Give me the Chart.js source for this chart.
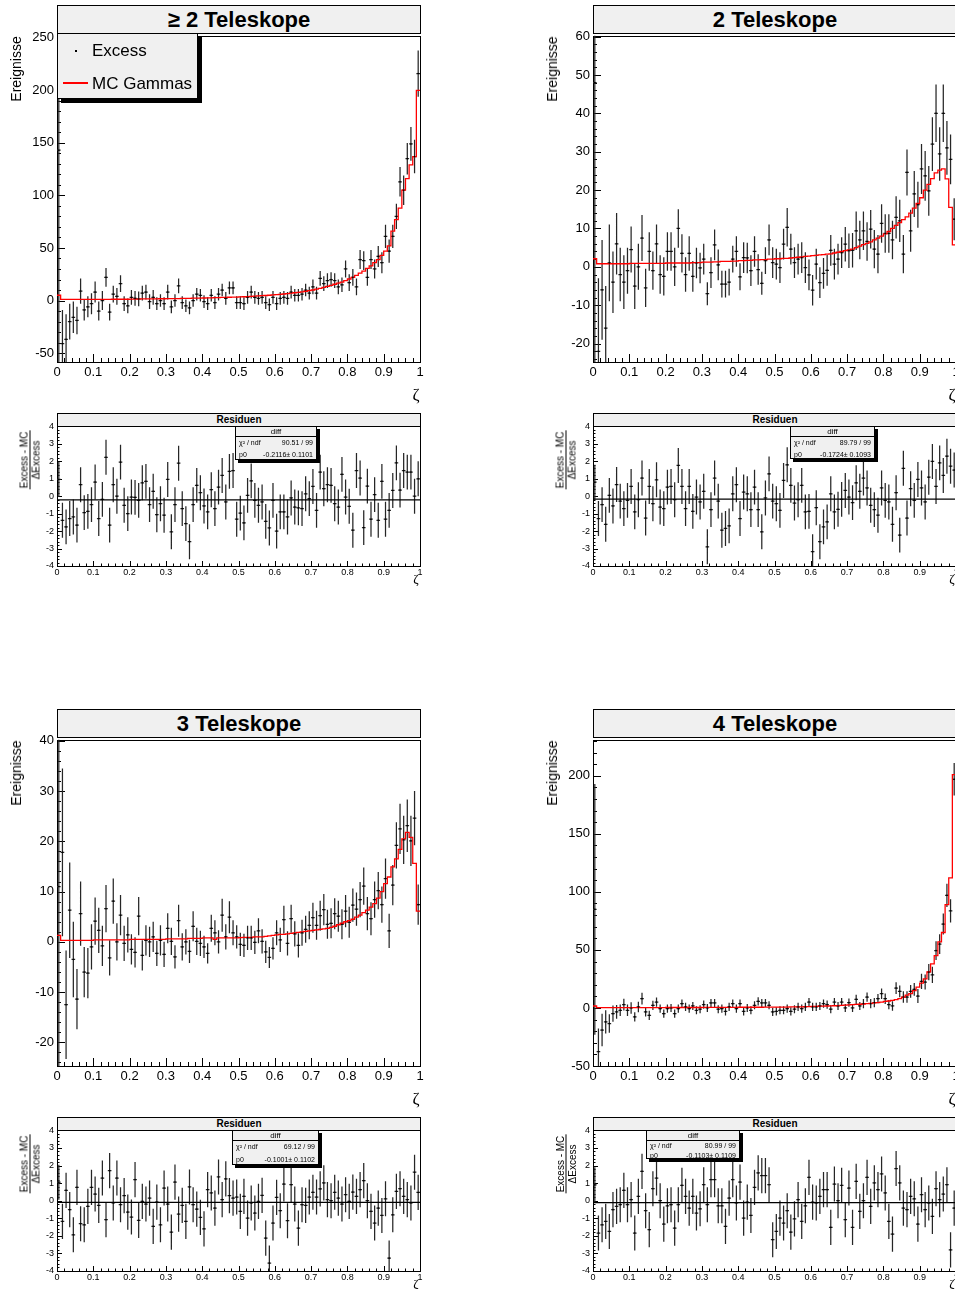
<!DOCTYPE html>
<html>
<head>
<meta charset="utf-8">
<script src="https://cdn.jsdelivr.net/npm/chart.js@4.4.1/dist/chart.umd.min.js"></script>
<style>
    html, body { margin: 0; padding: 0; background: #fff; }
    body { width: 955px; height: 1289px; overflow: hidden; position: relative; font-family: "Liberation Sans", Arial, sans-serif; color: #000; }
    canvas { position: absolute; }
    .box { position: absolute; box-sizing: border-box; background: #f0f0f0; border: 1px solid #000; }
    .title { text-align: center; font-weight: bold; }
    .ytitle { position: absolute; white-space: nowrap; transform: translate(-50%, -50%) rotate(-90deg); }
    .frac { text-align: center; font-size: 10px; line-height: 11px; }
    .frac .num { border-bottom: 1px solid #000; padding: 0 1px; }
    .zeta { position: absolute; font-family: "Liberation Serif", serif; transform: translate(-50%, -50%); }
    .stats { box-shadow: 3px 3px 0 #000; font-size: 7px; }
    .stats .head { text-align: center; font-size: 8px; border-bottom: 1px solid #000; }
    .stats .row { display: flex; justify-content: space-between; padding: 0 3px; }
</style>
</head>
<body>
<script>
    // --- DATA ---
    const BIN = 0.01;
    const zeta = Array.from({ length: 100 }, (_, i) => +(i * BIN + BIN / 2).toFixed(3));
    const zetaEdges = Array.from({ length: 101 }, (_, i) => +(i * BIN).toFixed(2));
    const xTickLabels = ['0', '0.1', '0.2', '0.3', '0.4', '0.5', '0.6', '0.7', '0.8', '0.9', '1'];

    // >= 2 Teleskope
    const excess2plus = [
        143, -41, -37, -20, -16, -19, 9, -9, -6, -3,
        8, -10, 0, 22, -11, 6, 4, 16, -3, -5,
        3, 2, 1.5, 7, 8, -1, 3, -3, 0, -3,
        8, -6, 0, 14, -2, -5, -7, 0, 6, 5,
        -1, -3, 5, -2, 6, 10, 2, 12, 12, -2,
        -2, -3, 3, 8, 3, 2, 3, -2, -4, 3,
        -3, 2, 3, 2, 8, 5, 5, 6, 10, 7,
        13, 7, 21, 16, 19, 20, 19, 13, 15, 30,
        17, 22, 13, 39, 38, 22, 39, 30, 42, 36,
        61, 47, 61, 80, 113, 105, 135, 149, 137, 216
    ];
    const err2plus = [
        210, 32, 24, 17, 15, 13, 12, 10, 10, 10,
        10, 9, 9, 9, 8, 8, 8, 8, 7, 7,
        7, 7, 7, 7, 7, 7, 7, 6, 6, 6,
        7, 6, 6, 7, 6, 6, 6, 6, 6, 6,
        6, 6, 6, 6, 6, 6, 6, 6, 6, 6,
        6, 6, 6, 6, 6, 6, 6, 6, 6, 6,
        6, 6, 6, 6, 6, 6, 6, 6, 6, 6,
        7, 6, 7, 7, 7, 7, 7, 7, 7, 8,
        8, 8, 8, 9, 9, 8, 9, 9, 10, 10,
        11, 11, 11, 12, 14, 14, 15, 16, 16, 22
    ];
    const mc2plus = [
        5, 1, 1, 1, 1, 1, 1, 1, 1, 1,
        1, 1, 1, 1, 1, 1.2, 1.2, 1.2, 1.2, 1.2,
        1.4, 1.4, 1.4, 1.5, 1.5, 1.5, 1.6, 1.6, 1.7, 1.7,
        1.8, 1.8, 1.9, 1.9, 2, 2, 2.1, 2.2, 2.2, 2.3,
        2.4, 2.5, 2.6, 2.7, 2.8, 2.9, 3, 3.1, 3.2, 3.3,
        3.5, 3.6, 3.8, 4, 4.2, 4.4, 4.6, 4.8, 5, 5.3,
        5.6, 5.9, 6.2, 6.6, 7, 7.4, 7.8, 8.3, 8.8, 9.4,
        10, 10.8, 11.6, 12.5, 13.5, 14.5, 15.5, 16.5, 17.5, 19,
        20.5, 22, 24, 26, 28, 30.5, 33, 36, 39, 43,
        47, 52, 66, 77, 88, 105, 116, 129, 137, 200
    ];
    const res2plus = [
        0.96, -1.38, -1.76, -1.28, -1.19, -1.66, 0.66, -0.94, -0.87, -0.48,
        0.81, -1.28, -0.18, 2.23, -1.66, 0.66, 0.0, 1.95, -0.52, -1.0,
        -0.05, -0.07, -0.24, 0.77, 0.85, -0.48, 0.28, -1.06, -0.43, -1.09,
        0.96, -2.04, -0.48, 1.89, -0.71, -1.57, -2.61, -0.48, 0.62, 0.2,
        -0.56, -0.9, 0.37, -0.71, 0.52, 1.19, -0.33, 1.42, 1.47, -1.32,
        -0.97, -1.53, 0.05, 0.88, -0.24, -0.52, -0.33, -1.44, -1.82, -0.24,
        -2.0, -0.9, -0.9, -1.19, -0.1, -0.62, -0.67, -0.71, 0.14, -0.14,
        0.56, -0.81, 1.38, 0.43, 0.66, 0.62, -0.43, -0.62, 1.25, -0.05,
        -0.58, -1.95, 1.47, 1.04, -1.8, 0.58, -1.32, 0.09, -1.38, 0.85,
        -1.32, -0.81, 0.33, 1.91, 0.35, 1.47, 1.38, 1.38, 0.0, 1.0
    ];

    // 2 Teleskope
    const excess2 = [
        48, -22, -6, -16, 1, -4, 6, -2, -4, -1,
        4.5, -5, 0, 7.5, -5.5, 4, -1, 6, -2, -2.5,
        4, 4, 0, 10, 3.5, -2, 3.5, -2.5, 1, -0.3,
        2, -7, -1.5, 5.7, 0.5, -4.5, -4.5, -4, 2, 4,
        -2.6, 2.4, 2.3, -1, 4, -0.7, -4.3, 1.6, 7, 1.1,
        0.7, -0.2, 5.9, 10.3, 4.6, 1.1, 2, 2.4, -0.2, -2.1,
        -6.1, 0.7, -4.1, -1.7, -0.9, 4.3, 0.7, 2, 3.7, 5.9,
        4.2, 4.3, 9.4, 7, 9.4, 6.6, 9.8, 4.6, 3.3, 11.3,
        8.7, 8.7, 7, 12.9, 12, 3.3, 24.6, 9.4, 19, 16.2,
        25.5, 23.7, 19.8, 32, 40, 29.4, 40, 31, 28, 12.4
    ];
    const err2 = [
        75, 19, 13, 11, 10, 8, 8, 7, 7, 6,
        6, 6, 6, 6, 5, 5, 5, 5, 5, 5,
        5, 5, 5, 5, 5, 4.5, 4.5, 4, 4, 4,
        4, 3, 4, 4, 4, 3.5, 3.5, 3.5, 3.5, 4,
        3.5, 4, 4, 4, 4, 4, 3, 3.5, 4, 4,
        4, 4, 4, 5, 4, 4, 4, 4, 4, 4,
        4, 4, 4, 4, 4, 4, 4, 4, 4, 4.5,
        4.5, 4.5, 5, 5, 5, 5, 5, 5, 5, 5,
        5, 5, 5, 5.5, 5.5, 5, 6, 5.5, 6, 6,
        6.5, 6.5, 6.5, 7, 7.5, 7, 7.5, 7, 6.5, 5.5
    ];
    const mc2 = [
        2.1, 0.8, 0.8, 0.8, 0.8, 0.8, 0.8, 0.8, 0.8, 0.8,
        0.9, 0.9, 0.9, 0.9, 0.9, 0.9, 0.9, 0.9, 0.9, 0.9,
        1, 1, 1, 1, 1, 1, 1, 1.1, 1.1, 1.1,
        1.2, 1.2, 1.2, 1.3, 1.3, 1.4, 1.4, 1.4, 1.5, 1.5,
        1.6, 1.6, 1.7, 1.7, 1.8, 1.8, 1.9, 1.9, 2, 2,
        2.1, 2.1, 2.2, 2.2, 2.3, 2.4, 2.5, 2.6, 2.7, 2.8,
        2.9, 3, 3.1, 3.2, 3.3, 3.4, 3.6, 3.8, 4, 4.2,
        4.4, 4.6, 5, 5.4, 5.8, 6.1, 6.5, 7, 7.5, 8,
        8.6, 9.2, 10, 10.8, 11.5, 12.3, 13, 14, 15.3, 16.5,
        18, 20, 21.5, 23, 24.5, 25.2, 25.5, 22.9, 15.5, 5.7
    ];
    const res2 = [
        0.8, -1.28, -0.48, -1.61, 0.05, -0.56, 0.67, -0.28, -0.71, -0.24,
        0.56, -0.9, -0.2, 1.04, -1.25, 0.56, -0.43, 0.94, -0.62, -0.71,
        0.52, 0.56, -0.2, 1.76, 0.56, -0.71, 0.56, -0.87, -0.05, -0.33,
        0.28, -2.9, -0.77, 1.04, -0.28, -1.95, -1.85, -1.7, 0.14, 0.66,
        -1.28, 0.24, 0.14, -0.77, 0.52, -0.77, -2.04, -0.1, 1.28, -0.28,
        -0.43, -0.81, 0.9, 1.8, 0.62, -0.39, -0.2, 0.62, -0.9, -0.87,
        -3.18, -0.66, -2.61, -1.76, -1.47, 0.14, -0.9, -0.75, -0.18, 0.33,
        -0.05, -0.37, 0.77, 0.28, 1.04, 0.47, -0.52, -0.77, -1.09, 0.47,
        -0.24, -0.33, -1.61, 0.2, -2.23, 1.6, -1.25, 0.43, -0.24, 0.96,
        0.47, -0.33, 1.09, 1.99, 0.56, 1.91, 1.19, 2.29, 1.72, 1.5
    ];

    // 3 Teleskope
    const excess3 = [
        11, 17.8, -12.5, 6.3, -3.5, -11.4, 5.6, -6, -6.2, -1,
        4.1, 2.3, -0.8, 6.6, -3.2, 8.1, 0, 5.3, -0.3, 1.4,
        -1.5, -2.1, 5.1, -2.7, 0.3, 0, 1, -2.3, 0.3, -2.5,
        2.7, 0.1, -3, 4.2, -1, 0, -1.9, 3.1, 0.1, -0.3,
        -1, -2.3, 2.7, 1.8, 0, 5.3, 1, 4.9, 1.8, 1,
        -0.5, -0.7, 0.8, 0.8, -0.1, 2.2, 0.1, -2, -3.1, -1.3,
        1.8, 0.4, 4.4, -0.3, 4.6, 1.6, -0.7, 1.8, 2.5, 3.3,
        4.8, 3.3, 5.2, 6.4, 3.5, 3.7, 5.6, 5.1, 3.5, 6.1,
        3.9, 7.3, 6.5, 8.4, 11.1, 5.6, 4.6, 8.4, 10.2, 7.4,
        12.6, 2.2, 11.3, 19.2, 22.5, 20.3, 23.1, 20.1, 24.6, 7.4
    ];
    const err3 = [
        36, 16.7, 10.8, 9.5, 7.5, 6, 6.4, 5, 5, 4.5,
        4.7, 4.5, 4, 4.7, 3.5, 4.5, 3.7, 4, 3.5, 3.5,
        3, 3, 3.8, 3, 3, 3, 3, 2.5, 3, 2.5,
        3, 2.7, 2.3, 3.2, 2.7, 2.5, 2.3, 3, 2.7, 2.5,
        2.2, 2, 2.7, 2.5, 2.3, 3.3, 2.5, 3.2, 2.5, 2.3,
        2.3, 2.3, 2.4, 2.4, 2.3, 2.5, 2.4, 2.2, 2.1, 2.2,
        2.5, 2.4, 2.8, 2.4, 2.8, 2.5, 2.4, 2.6, 2.7, 2.8,
        3, 2.9, 3, 3.1, 2.9, 3, 3.1, 3.1, 3, 3.2,
        3.1, 3.3, 3.3, 3.5, 3.7, 3.3, 3.3, 3.6, 3.7, 3.6,
        4, 3.4, 4, 4.6, 5, 4.8, 5.2, 5, 5.4, 4
    ];
    const mc3 = [
        1.3, 0.3, 0.3, 0.3, 0.3, 0.3, 0.3, 0.3, 0.3, 0.3,
        0.4, 0.4, 0.4, 0.4, 0.4, 0.4, 0.4, 0.4, 0.4, 0.4,
        0.5, 0.5, 0.5, 0.5, 0.5, 0.5, 0.5, 0.5, 0.5, 0.5,
        0.6, 0.6, 0.6, 0.6, 0.6, 0.6, 0.7, 0.7, 0.7, 0.7,
        0.8, 0.8, 0.8, 0.5, 0.8, 0.8, 0.8, 0.8, 0.8, 0.8,
        0.85, 0.9, 0.9, 0.9, 1, 1, 1, 1.1, 1.2, 1.3,
        1.4, 1.5, 1.5, 1.6, 1.7, 1.8, 1.9, 2, 2.1, 2.2,
        2.3, 2.4, 2.5, 2.6, 2.7, 2.9, 3.1, 3.4, 3.7, 4,
        4.2, 4.5, 4.9, 5.3, 5.8, 6.3, 6.9, 7.6, 8.7, 10,
        11.6, 12.9, 14.9, 16.5, 18.4, 20.5, 21.8, 20.8, 15.6, 6.1
    ];
    const res3 = [
        1.05, -1.18, 0.59, -0.51, -1.94, 0.76, -1.31, -1.37, -0.32, 0.76,
        0.38, -0.27, 1.29, -1.08, 1.71, -0.13, 1.29, -0.23, 0.29, -0.65,
        -0.93, 1.2, -1.12, -0.04, -0.19, 0.15, -1.46, -0.08, -1.37, 0.72,
        -0.19, -1.79, 1.06, -0.76, -0.27, -1.18, 0.78, -0.23, -0.48, -0.95,
        -1.6, 0.63, 0.44, -0.42, 1.35, 0.06, 1.24, 0.29, 0.15, 0.21,
        -0.61, 0.25, -0.99, -0.13, -0.7, -0.04, 0.3, -2.13, -3.55, -1.27,
        0.19, -0.57, 0.95, -1.14, 0.91, -0.19, -1.56, -0.23, -0.27, 0.21,
        0.48, 0.21, 0.67, 1.01, 0.06, 0, 0.48, 0.15, -0.19, 0.34,
        -0.04, 0.49, 0.25, 0.63, 1.14, 0, -0.61, -1.27, -0.42, -0.84,
        0.11, -3.27, -0.8, 0.53, 0.68, 0.25, 0.06, -0.13, 1.62, 0.47
    ];

    // 4 Teleskope
    const excess4 = [
        85, -37.7, -19, -12, -13.4, -4.9, -3.4, -2, 2.9, -2,
        0, -7.7, 0.9, 8, -3.4, -6.3, 2.3, 5.1, -0.6, -4.9,
        -0.6, 0, -4.9, -0.6, 3.7, 0.9, -0.6, 1.7, -2, -1.1,
        2.9, 0, 4.3, 4.3, -1.1, -0.6, -2.9, 0.9, 3.7, -0.6,
        3.7, -2.9, 0, -2, 2.3, 5.7, 4.3, 4.3, 2.3, -3.4,
        -2.9, -2, -2, -0.6, -2.9, -1.1, 0.9, -0.6, 0.9, 5.1,
        0.9, 0.9, 1.7, 3.7, 2.9, -1.1, 5.1, 1.7, 5.1, 0,
        4.6, 0, 7.4, 1.7, 3.7, 9.4, 3.7, 4.6, 8, 12.3,
        8, 2.9, 1.7, 17.1, 14.3, 9.4, 9.4, 14.3, 16, 10.3,
        22.9, 22.3, 30.9, 28.6, 49.4, 55, 72.3, 97, 83.7, 197
    ];
    const err4 = [
        108, 20, 14, 10, 8, 7, 6, 5, 5, 5,
        5, 4, 4.5, 5, 4, 4, 4, 4, 3.5, 3.5,
        3.5, 3.5, 3.5, 3.5, 3.5, 3.5, 3.5, 3.5, 3.5, 3.5,
        3.5, 3.5, 3.5, 3.5, 3.5, 3.5, 3.5, 3.5, 3.5, 3.5,
        3.5, 3.5, 3.5, 3.5, 3.5, 3.5, 3.5, 3.5, 3.5, 3.5,
        3.5, 3.5, 3.5, 3.5, 3.5, 3.5, 3.5, 3.5, 3.5, 3.5,
        3.5, 3.5, 3.5, 3.5, 3.5, 3.5, 3.5, 3.5, 3.5, 3.5,
        3.5, 3.5, 4, 3.5, 4, 4, 4, 4, 4, 4.5,
        4.5, 4, 4, 5, 5, 5, 5, 5.5, 5.5, 6,
        6.5, 6.5, 7, 7, 8, 8.5, 9, 10, 10, 14
    ];
    const mc4 = [
        1.7, 0.3, 0.3, 0.3, 0.3, 0.3, 0.3, 0.3, 0.3, 0.3,
        0.3, 0.3, 0.3, 0.3, 0.3, 0.3, 0.3, 0.3, 0.3, 0.3,
        0.4, 0.4, 0.4, 0.4, 0.4, 0.4, 0.4, 0.4, 0.4, 0.4,
        0.5, 0.5, 0.5, 0.5, 0.5, 0.5, 0.5, 0.5, 0.5, 0.5,
        0.6, 0.6, 0.6, 0.6, 0.6, 0.6, 0.6, 0.7, 0.7, 0.7,
        0.7, 0.8, 0.8, 0.8, 0.9, 0.9, 1, 1, 1.1, 1.2,
        1.3, 1.4, 1.5, 1.6, 1.7, 1.8, 1.9, 2, 2.2, 2.4,
        2.6, 2.8, 3, 3.2, 3.4, 3.7, 4, 4.3, 4.6, 5.1,
        5.7, 6, 6.5, 7.1, 8, 9.4, 11, 12.3, 15, 18,
        21.4, 25, 31, 38, 45, 57, 65, 89, 112, 201
    ];
    const res4 = [
        0.9, -1.84, -1.37, -1.18, -1.75, -0.51, -0.32, -0.23, 0.59, -0.23,
        0.06, -1.84, 0.25, 1.67, -0.57, -1.65, 0.68, 1.29, 0, -1.33,
        -0.29, -0.23, -1.56, -0.23, 0.87, 0.25, -0.42, 0.25, -0.7, -0.46,
        0.91, -0.23, 1.2, 1.2, -0.29, -0.29, -1.46, 0.15, 1.2, -0.13,
        1.06, -0.99, -0.08, -0.84, 0.76, 1.58, 1.43, 1.43, 0.91, -2.22,
        -1.75, -0.99, -1.27, -0.57, -1.79, -1.03, 0.06, -1.18, -0.29, 1.33,
        -0.08, -0.13, 0.25, 0.63, 0.63, -1.52, 0.95, 0, 0.87, -1.08,
        0.72, -1.52, 1.1, -0.61, 0, 1.33, -0.32, 1.01, 0.63, 1.52,
        0.44, -1.18, -1.9, 1.83, 1.01, -0.42, -0.51, 0.25, 0.11, -1.33,
        0.34, -0.51, -0.13, -0.89, 0.68, 0.06, 0.38, 0.91, -2.8, -0.42
    ];

    // fit results shown in the "diff" boxes
    const fitChi2 = ['90.51 / 99', '89.79 / 99', '69.12 / 99', '80.99 / 99'];
    const fitP0 = [-0.2116, -0.1724, -0.1001, -0.1103];
    const fitP0Err = [0.1101, 0.1093, 0.1102, 0.1109];

    // --- LAYOUT ---
    const FRAME_W = 363;
    const panels = [
        { title: '\u2265 2 Teleskope', excess: excess2plus, err: err2plus, mc: mc2plus, res: res2plus, fit: 0,
          left: 57, main: [33, 362], resid: [426, 566], yRange: [-58.5, 251.9], yStep: 50, yMinor: 10,
          stats: [235, 426, 82, 34], legend: true },
        { title: '2 Teleskope', excess: excess2, err: err2, mc: mc2, res: res2, fit: 1,
          left: 593, main: [33, 362], resid: [426, 566], yRange: [-24.8, 60.2], yStep: 10, yMinor: 2,
          stats: [790, 426, 85, 33] },
        { title: '3 Teleskope', excess: excess3, err: err3, mc: mc3, res: res3, fit: 2,
          left: 57, main: [737, 1066], resid: [1130, 1271], yRange: [-24.7, 40.2], yStep: 10, yMinor: 2,
          stats: [232, 1130, 87, 35] },
        { title: '4 Teleskope', excess: excess4, err: err4, mc: mc4, res: res4, fit: 3,
          left: 593, main: [737, 1066], resid: [1130, 1271], yRange: [-50, 231], yStep: 50, yMinor: 10,
          stats: [646, 1130, 94, 29] }
    ];

    Chart.defaults.font.family = '"Liberation Sans", Arial, sans-serif';
    Chart.defaults.color = '#000';

    // ROOT-like frame, inward ticks and error bars
    const rootStyle = {
        id: 'rootStyle',
        beforeDatasetsDraw(chart, args, opts) {
            const { ctx, chartArea: a, scales: { x, y } } = chart;
            ctx.save();
            ctx.strokeStyle = '#000';
            ctx.lineWidth = 1;
            ctx.strokeRect(Math.round(a.left) + 0.5, Math.round(a.top) + 0.5, Math.round(a.width), Math.round(a.height));

            ctx.beginPath();
            for (let k = 0; k <= 50; k++) {
                const len = k % 5 === 0 ? opts.tick : opts.tick / 2;
                const px = Math.round(x.getPixelForValue(k * 0.02)) + 0.5;
                ctx.moveTo(px, a.bottom);
                ctx.lineTo(px, a.bottom - len);
            }
            const k0 = Math.ceil(y.min / opts.yMinor - 1e-9), k1 = Math.floor(y.max / opts.yMinor + 1e-9);
            const per = Math.round(opts.yStep / opts.yMinor);
            for (let k = k0; k <= k1; k++) {
                const len = k % per === 0 ? opts.tick : opts.tick / 2;
                const py = Math.round(y.getPixelForValue(k * opts.yMinor)) + 0.5;
                ctx.moveTo(a.left, py);
                ctx.lineTo(a.left + len, py);
            }
            ctx.stroke();

            ctx.beginPath();
            ctx.rect(a.left, a.top, a.width, a.height);
            ctx.clip();
            ctx.strokeStyle = '#262626';
            ctx.lineWidth = 1.25;
            chart.data.datasets.forEach(ds => {
                if (ds.errors === undefined) return;
                ctx.beginPath();
                ds.data.forEach((p, i) => {
                    const e = Array.isArray(ds.errors) ? ds.errors[i] : ds.errors;
                    const px = x.getPixelForValue(p.x);
                    const py = y.getPixelForValue(p.y);
                    ctx.moveTo(px, y.getPixelForValue(p.y - e));
                    ctx.lineTo(px, y.getPixelForValue(p.y + e));
                    ctx.moveTo(x.getPixelForValue(p.x - BIN / 2), py);
                    ctx.lineTo(x.getPixelForValue(p.x + BIN / 2), py);
                });
                ctx.stroke();
            });
            ctx.restore();
        }
    };
    Chart.register(rootStyle);

    function addDiv(cls, html, css) {
        const d = document.createElement('div');
        d.className = cls;
        d.innerHTML = html;
        Object.assign(d.style, css);
        document.body.appendChild(d);
        return d;
    }

    function makeChart(p, isMain) {
        const [fy0, fy1] = isMain ? p.main : p.resid;
        const cx = p.left - 57, cy = fy0 - 8;
        const cw = 57 + FRAME_W + 12;
        const axisH = isMain ? 24 : 16;
        const ch = fy1 - cy + axisH;
        const [ymin, ymax] = isMain ? p.yRange : [-4, 4];
        const yStep = isMain ? p.yStep : 1;
        const yMinor = isMain ? p.yMinor : 0.2;
        const fontSize = isMain ? 13 : 9;

        const cv = document.createElement('canvas');
        cv.width = cw;
        cv.height = ch;
        cv.style.left = cx + 'px';
        cv.style.top = cy + 'px';
        document.body.appendChild(cv);

        const points = zeta.map((x, i) => ({ x, y: isMain ? p.excess[i] : p.res[i] }));
        const second = isMain
            ? { type: 'line', data: zetaEdges.map((x, i) => ({ x, y: p.mc[Math.min(i, 99)] })), stepped: 'before',
                borderColor: '#ff0000', borderWidth: 1.3, pointRadius: 0, fill: false }
            : { type: 'line', data: [{ x: 0, y: fitP0[p.fit] }, { x: 1, y: fitP0[p.fit] }],
                borderColor: '#000', borderWidth: 1.2, pointRadius: 0, fill: false };

        new Chart(cv, {
            type: 'scatter',
            data: {
                datasets: [
                    { type: 'scatter', data: points, errors: isMain ? p.err : 1,
                      pointRadius: 0.8, pointBackgroundColor: '#000', pointBorderWidth: 0 },
                    second
                ]
            },
            options: {
                responsive: false,
                animation: false,
                devicePixelRatio: 1,
                events: [],
                layout: { padding: { left: 0, top: fy0 - cy, right: cw - (p.left + FRAME_W - cx), bottom: 0 } },
                plugins: {
                    legend: { display: false },
                    tooltip: { enabled: false },
                    rootStyle: { tick: isMain ? 8 : 5, yStep, yMinor }
                },
                scales: {
                    x: {
                        type: 'linear', min: 0, max: 1,
                        afterBuildTicks: s => { s.ticks = xTickLabels.map((_, k) => ({ value: k / 10 })); },
                        afterFit: s => { s.height = axisH; },
                        grid: { display: false, drawTicks: false },
                        border: { display: false },
                        ticks: { padding: isMain ? 3 : 1, font: { size: fontSize }, maxRotation: 0, autoSkip: false,
                                 callback: (v, k) => xTickLabels[k] }
                    },
                    y: {
                        type: 'linear', min: ymin, max: ymax,
                        afterBuildTicks: s => {
                            const t = [];
                            for (let k = Math.ceil(ymin / yStep - 1e-9); k <= Math.floor(ymax / yStep + 1e-9); k++) t.push({ value: k * yStep });
                            s.ticks = t;
                        },
                        afterFit: s => { s.width = 57; },
                        grid: { display: false, drawTicks: false },
                        border: { display: false },
                        ticks: { padding: 3, font: { size: fontSize }, autoSkip: false,
                                 callback: v => String(Math.round(v)) }
                    }
                }
            }
        });
    }

    panels.forEach(p => {
        makeChart(p, true);
        makeChart(p, false);
    });

    // text overlays
    panels.forEach(p => {
        addDiv('box title', p.title, { left: p.left + 'px', top: (p.main[0] - 28) + 'px', width: (FRAME_W + 1) + 'px',
            height: '29px', fontSize: '22px', lineHeight: '27px' });
        addDiv('box title', 'Residuen', { left: p.left + 'px', top: (p.resid[0] - 13) + 'px', width: (FRAME_W + 1) + 'px',
            height: '14px', fontSize: '10px', lineHeight: '12px' });

        addDiv('ytitle', 'Ereignisse', { left: (p.left - 41) + 'px', top: (p.main[0] + 36) + 'px', fontSize: '14px' });
        addDiv('ytitle frac', '<div class="num">Excess - MC</div><div>\u0394Excess</div>',
            { left: (p.left - 27) + 'px', top: (p.resid[0] + 34) + 'px' });

        addDiv('zeta', '\u03b6', { left: (p.left + 359) + 'px', top: (p.main[1] + 33) + 'px', fontSize: '17px' });
        addDiv('zeta', '\u03b6', { left: (p.left + 359) + 'px', top: (p.resid[1] + 13) + 'px', fontSize: '13px' });

        const [sx, sy, sw, sh] = p.stats;
        const rowH = (sh - 10) / 2;
        addDiv('box stats',
            '<div class="head" style="height:9px;line-height:9px">diff</div>' +
            `<div class="row" style="height:${rowH}px;line-height:${rowH}px"><span>\u03c7\u00b2 / ndf</span><span>${fitChi2[p.fit]}</span></div>` +
            `<div class="row" style="height:${rowH}px;line-height:${rowH}px"><span>p0</span><span>${fitP0[p.fit].toFixed(4)}\u00b1 ${fitP0Err[p.fit].toFixed(4)}</span></div>`,
            { left: sx + 'px', top: sy + 'px', width: sw + 'px', height: sh + 'px' });

        if (p.legend) {
            const lg = addDiv('box', '', { left: p.left + 'px', top: p.main[0] + 'px', width: '141px', height: '66px',
                boxShadow: '4px 4px 0 #000', fontSize: '17px' });
            lg.innerHTML =
                '<div style="position:absolute;left:17px;top:16px;width:2px;height:2px;background:#000"></div>' +
                '<div style="position:absolute;left:34px;top:7px">Excess</div>' +
                '<div style="position:absolute;left:5px;top:48px;width:25px;height:2px;background:#ff0000"></div>' +
                '<div style="position:absolute;left:34px;top:40px">MC Gammas</div>';
        }
    });
</script>
</body>
</html>
